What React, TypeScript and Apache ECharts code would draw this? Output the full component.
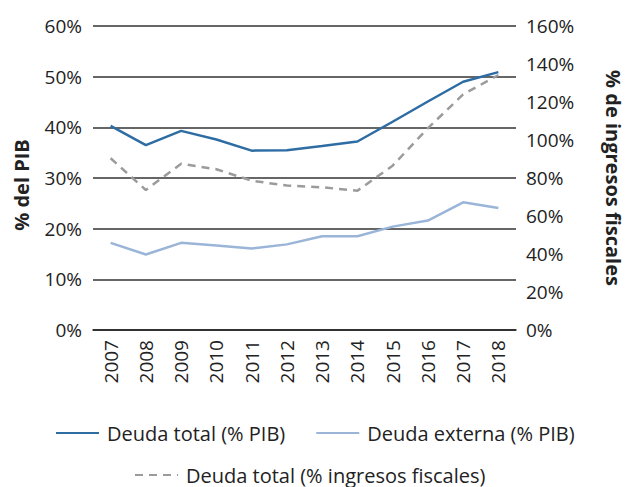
import React, { useEffect, useRef } from "react";
import * as echarts from "echarts";

const years = ["2007", "2008", "2009", "2010", "2011", "2012", "2013", "2014", "2015", "2016", "2017", "2018"];
const deudaTotalPIB = [40.3, 36.5, 39.3, 37.6, 35.4, 35.5, 36.3, 37.2, 41.1, 45.1, 49.0, 50.9];
const deudaExternaPIB = [17.2, 14.9, 17.2, 16.7, 16.1, 16.9, 18.5, 18.5, 20.4, 21.6, 25.2, 24.1];
const deudaTotalIngresos = [90.4, 73.7, 87.5, 84.6, 78.6, 76.0, 75.1, 73.3, 86.5, 106.2, 124.0, 134.2];

const FONT = "Open Sans";
const TICK = 19;
const LEG = 20;

export default function App() {
  const ref = useRef<HTMLDivElement>(null);
  useEffect(() => {
    const chart = echarts.init(ref.current!, null, { renderer: "svg" });
    const legendCommon = {
      itemWidth: 43,
      itemHeight: 14,
      itemStyle: { opacity: 0, borderWidth: 0 },
      textStyle: { fontFamily: FONT, fontSize: LEG, color: "#222", padding: [0, 0, 0, 3] },
    };
    chart.setOption({
      animation: false,
      textStyle: { fontFamily: FONT },
      grid: { left: 93, right: 88, top: 26, bottom: 157, containLabel: false },
      graphic: [
        {
          type: "text",
          x: 21,
          y: 185,
          rotation: Math.PI / 2,
          style: {
            text: "% del PIB",
            fontFamily: FONT,
            fontSize: LEG,
            fontWeight: "bold",
            fill: "#222",
            align: "center",
            verticalAlign: "middle",
          },
        },
      ],
      legend: [
        {
          ...legendCommon,
          data: ["Deuda total (% PIB)", "Deuda externa (% PIB)"],
          left: 50,
          top: 418,
          itemGap: 30,
        },
        {
          ...legendCommon,
          data: ["Deuda total (% ingresos fiscales)"],
          left: 129,
          top: 460,
        },
      ],
      xAxis: {
        type: "category",
        data: years,
        boundaryGap: true,
        axisLine: { show: true, lineStyle: { color: "#222", width: 1.5 } },
        axisTick: { show: false },
        axisLabel: { rotate: 90, fontSize: TICK, color: "#222", margin: 10, fontFamily: FONT },
      },
      yAxis: [
        {
          type: "value",
          min: 0,
          max: 0.6,
          interval: 0.1,
          axisLine: { show: false },
          axisTick: { show: false },
          axisLabel: {
            fontSize: TICK,
            color: "#222",
            margin: 11,
            fontFamily: FONT,
            formatter: (v: number) => Math.round(v * 100) + "%",
          },
          splitLine: { show: true, lineStyle: { color: "#333", width: 1.5 } },
        },
        {
          type: "value",
          min: 0,
          max: 1.6,
          interval: 0.2,
          name: "% de ingresos fiscales",
          nameLocation: "middle",
          nameGap: 87,
          nameRotate: -90,
          nameTextStyle: { fontSize: LEG, fontWeight: "bold", color: "#222", fontFamily: FONT },
          axisLine: { show: false },
          axisTick: { show: false },
          axisLabel: {
            fontSize: TICK,
            color: "#222",
            margin: 10,
            fontFamily: FONT,
            formatter: (v: number) => Math.round(v * 100) + "%",
          },
          splitLine: { show: false },
        },
      ],
      series: [
        {
          name: "Deuda total (% PIB)",
          type: "line",
          yAxisIndex: 0,
          data: deudaTotalPIB.map((v) => v / 100),
          symbol: "none",
          lineStyle: { color: "#2E6DA4", width: 2.5 },
          itemStyle: { color: "#2E6DA4" },
        },
        {
          name: "Deuda externa (% PIB)",
          type: "line",
          yAxisIndex: 0,
          data: deudaExternaPIB.map((v) => v / 100),
          symbol: "none",
          lineStyle: { color: "#9AB5D8", width: 2.5 },
          itemStyle: { color: "#9AB5D8" },
        },
        {
          name: "Deuda total (% ingresos fiscales)",
          type: "line",
          yAxisIndex: 1,
          data: deudaTotalIngresos.map((v) => v / 100),
          symbol: "none",
          lineStyle: { color: "#9B9B9B", width: 2.5, type: [8, 6] },
          itemStyle: { color: "#9B9B9B" },
        },
      ],
    });
    return () => chart.dispose();
  }, []);
  return <div ref={ref} style={{ width: 631, height: 487, position: "absolute", left: 0, top: 0 }} />;
}
